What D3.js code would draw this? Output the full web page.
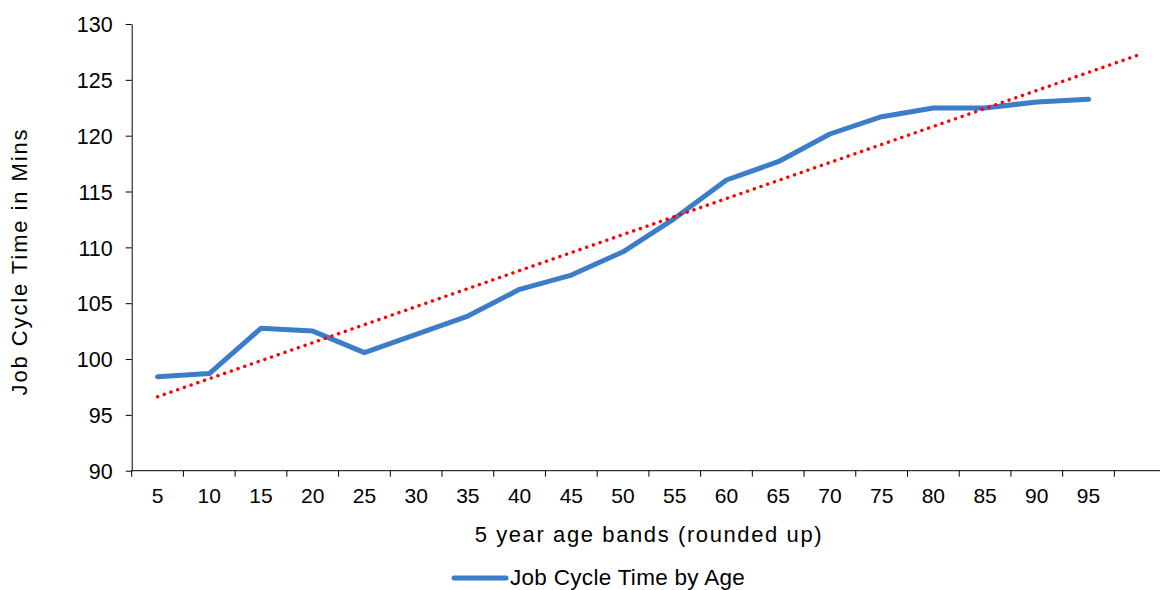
<!DOCTYPE html>
<html>
<head>
<meta charset="utf-8">
<script src="https://cdn.jsdelivr.net/npm/d3@7"></script>
<style>
  html, body { margin: 0; padding: 0; background: #fff; }
  svg { display: block; }
  text { font-family: "Liberation Sans", Arial, sans-serif; fill: #000; }
</style>
</head>
<body>
<svg id="chart" width="1160" height="590"></svg>
<script>
// ---- data ----
const categories = ["5","10","15","20","25","30","35","40","45","50","55","60","65","70","75","80","85","90","95",""];
const values = [98.42, 98.7, 102.75, 102.5, 100.57, 102.2, 103.85, 106.24, 107.52, 109.6,
                112.6, 116.03, 117.67, 120.15, 121.7, 122.48, 122.48, 123.02, 123.26];
const yTicks = [90, 95, 100, 105, 110, 115, 120, 125, 130];
const seriesName = "Job Cycle Time by Age";
const xTitle = "5 year age bands (rounded up)";
const yTitle = "Job Cycle Time in Mins";

// ---- layout ----
const plotLeft = 131.7, plotTop = 24, plotH = 446.7, step = 51.72;
const plotW = step * categories.length;

const svg = d3.select("#chart");
const g = svg.append("g");

const x = d3.scaleBand().domain(categories.map((c, i) => i)).range([plotLeft, plotLeft + plotW]).paddingInner(0).paddingOuter(0);
const y = d3.scaleLinear().domain([90, 130]).range([plotTop + plotH, plotTop]);
const cx = i => x(i) + x.bandwidth() / 2;

// y axis
const yAxis = d3.axisLeft(y).tickValues(yTicks).tickSize(6).tickPadding(13).tickSizeOuter(0);
const ya = g.append("g").attr("transform", `translate(${plotLeft},0)`).call(yAxis);
ya.selectAll("text").style("font-size", "21.5px").attr("dy", "0.36em");
ya.selectAll("line, path").attr("stroke", "#000");

// x axis (ticks at category boundaries)
const bounds = d3.range(categories.length + 1).map(i => plotLeft + i * step);
const xa = g.append("g");
xa.append("line").attr("x1", plotLeft).attr("x2", plotLeft + plotW).attr("y1", y(90)).attr("y2", y(90)).attr("stroke", "#000");
xa.selectAll("line.tick").data(bounds).join("line").attr("class", "tick")
  .attr("x1", d => d).attr("x2", d => d).attr("y1", y(90)).attr("y2", y(90) + 6).attr("stroke", "#000");
xa.selectAll("text").data(categories).join("text")
  .attr("x", (d, i) => cx(i)).attr("y", y(90) + 32.5)
  .attr("text-anchor", "middle").style("font-size", "21px").text(d => d);

// titles
g.append("text").attr("x", plotLeft + plotW / 2).attr("y", 542)
  .attr("text-anchor", "middle").style("font-size", "22px").style("letter-spacing", "1.6px").text(xTitle);
g.append("text").attr("transform", `translate(26.5,${261.5}) rotate(-90)`)
  .attr("text-anchor", "middle").style("font-size", "22px").style("letter-spacing", "1.9px").text(yTitle);

// linear trend (least squares), forecast forward 1 period
const n = values.length;
const mi = d3.mean(values, (v, i) => i), mv = d3.mean(values);
const slope = d3.sum(values, (v, i) => (i - mi) * (v - mv)) / d3.sum(values, (v, i) => (i - mi) ** 2);
const icpt = mv - slope * mi;
const trendIdx = [0, n];
const trendLine = d3.line().x(i => cx(i)).y(i => y(icpt + slope * i));

// series line
const line = d3.line().x((v, i) => cx(i)).y(v => y(v));
g.append("path").datum(values).attr("d", line)
  .attr("fill", "none").attr("stroke", "#3b7dc8").attr("stroke-width", 5)
  .attr("stroke-linejoin", "round").attr("stroke-linecap", "round");

g.append("path").datum(trendIdx).attr("d", trendLine)
  .attr("fill", "none").attr("stroke", "#ff0000").attr("stroke-width", 3.4)
  .attr("stroke-linecap", "round").attr("stroke-dasharray", "0.1 7");

// legend
const lg = g.append("g");
lg.append("line").attr("x1", 454).attr("x2", 506).attr("y1", 578).attr("y2", 578)
  .attr("stroke", "#3b7dc8").attr("stroke-width", 5).attr("stroke-linecap", "round");
lg.append("text").attr("x", 510).attr("y", 585).style("font-size", "22.5px").style("letter-spacing", "0.3px").text(seriesName);
</script>
</body>
</html>
